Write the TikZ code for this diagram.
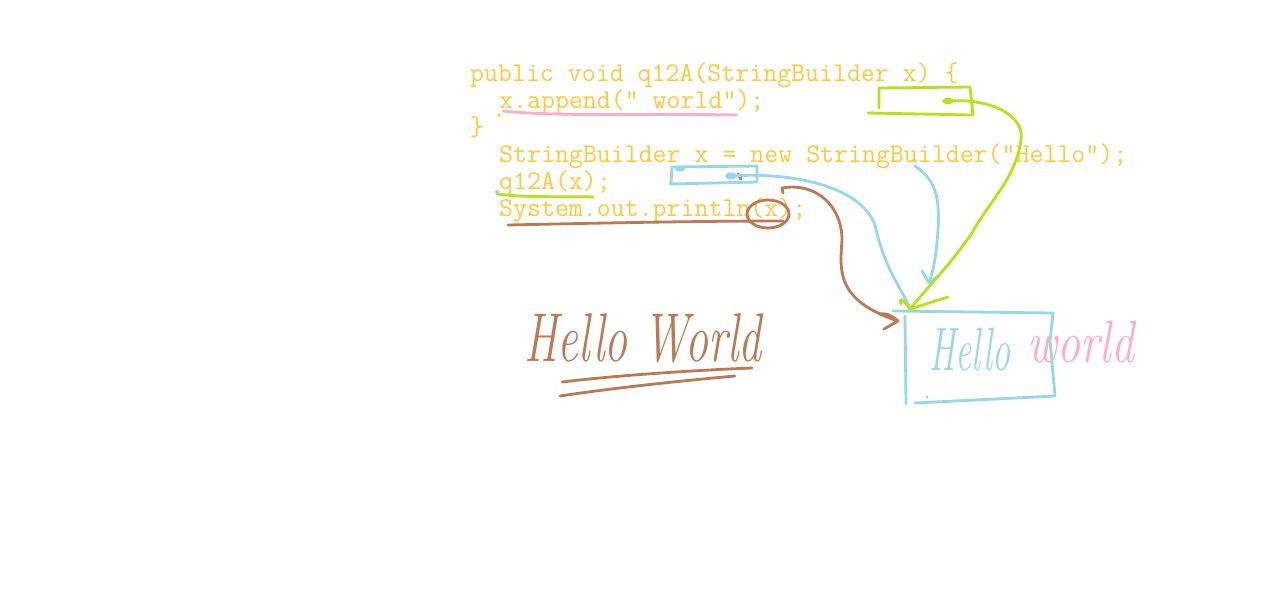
\documentclass[tikz,border=0pt]{standalone}
\usepackage{fontspec}
\usetikzlibrary{arrows.meta}
\definecolor{codeC}{RGB}{255,200,60}
\definecolor{pinkC}{RGB}{255,172,200}
\definecolor{greenC}{RGB}{182,226,24}
\definecolor{blueC}{RGB}{152,214,234}
\definecolor{brownC}{RGB}{186,122,86}
\begin{document}
\begin{tikzpicture}[x=1pt,y=-1pt,
  ink/.style={line width=2.8pt, line cap=round, line join=round},
  code/.style={anchor=base west, inner sep=0pt, font=\ttfamily\fontsize{27.1}{27}\selectfont, text=codeC},
  hand/.style={inner sep=0pt, font=\itshape\fontsize{#1}{#1}\selectfont}]
\useasboundingbox[fill=white] (0,0) rectangle (1268,590);
% code
\node[code] (l1) at (470,81) {public void q12A(StringBuilder x) \{};
\node[code] (l2) at (499,108) {x.append(" world");};
\node[code] (l3) at (470,135) {\}};
\node[code] (l4) at (499,162) {StringBuilder x = new StringBuilder("Hello");};
\node[code] (l5) at (499,189) {q12A(x);};
\node[code] (l6) at (499,216) {System.out.println(x);};
% underlines
\draw[ink,pinkC] (503,111) .. controls (560,117) and (640,113) .. (737,115);
\fill[greenC] (499,115) circle (1.6pt);
\draw[ink,greenC] (497,194) .. controls (530,198) and (560,196) .. (593,197);
\fill[blueC] (497,192) circle (2pt);
\draw[ink,brownC] (508,225) .. controls (600,223) and (700,221) .. (783,221);
\draw[ink,brownC] (768,214) ellipse [x radius=21pt, y radius=14pt];
% green box (parameter x)
\draw[ink,greenC] (879,108) -- (879,88) -- (970,87) -- (973,115) -- (868,113);
\coordinate (gdot) at (948,101);
\fill[greenC] (gdot) ellipse [x radius=6pt, y radius=3pt];
% blue box (local x)
\draw[ink,blueC] (671,184) -- (672,167) -- (757,166) -- (757,182) -- (670,184);
\fill[blueC] (680,169) ellipse [x radius=5pt, y radius=2.5pt];
\coordinate (bdot) at (731,176);
\fill[blueC] (bdot) ellipse [x radius=6pt, y radius=3.5pt];
\draw[ink,brownC] (738,174) -- (741,179);
% heap object box
\node[minimum width=150pt, minimum height=92pt] (heap) at (980,358) {};
\draw[ink,blueC] (893,311) -- (1053,313) -- (1050,340) -- (1055,396) -- (915,403);
\draw[ink,blueC] (905,316) -- (906,404);
\fill[blueC] (927,397) circle (1.6pt);
\node[hand=36, text=blueC, yscale=1.7] (hello) at (970,350) {Hello};
\node[hand=46, text=pinkC, yscale=1.3] (world) at (1081,342) {world};
\coordinate (tip) at (910,309);
% blue reference arrow from local x
\draw[ink,blueC] (bdot) .. controls (790,172) and (860,185) .. (875,225)
  .. controls (885,270) and (900,285) .. (tip);
% blue arrow from new StringBuilder
\coordinate (newsb) at (915,166);
\coordinate (btip) at (929,283);
\draw[ink,blueC] (newsb) .. controls (935,180) and (940,195) .. (938,230)
  .. controls (936,260) and (933,270) .. (btip);
\draw[ink,blueC] (btip) -- (922,271);
\draw[ink,blueC] (btip) -- (938,276);
% green reference arrow from parameter x
\draw[ink,greenC] (gdot) .. controls (990,98) and (1025,115) .. (1021,140)
  .. controls (1015,180) and (990,200) .. (972,233)
  .. controls (950,265) and (925,290) .. (tip);
\draw[ink,greenC] (tip) -- (948,297);
\draw[ink,greenC] (tip) .. controls (904,300) and (898,296) .. (901,304);
% brown arrow from println(x)
\coordinate (brstart) at (783,193);
\coordinate (brtip) at (898,321);
\draw[ink,brownC] (brstart) -- (782,188) .. controls (815,182) and (842,205) .. (842,240)
  .. controls (840,270) and (835,300) .. (brtip);
\draw[ink,brownC] (brtip) .. controls (890,314) and (884,313) .. (880,314);
\draw[ink,brownC] (brtip) -- (884,329);
% printed output
\node[hand=46, text=brownC, yscale=1.5] (out) at (643,338) {Hello World};
\draw[ink,brownC] (562,382) .. controls (620,375) and (700,370) .. (752,368);
\draw[ink,brownC] (560,396) .. controls (620,387) and (690,380) .. (735,376);
\end{tikzpicture}
\end{document}
